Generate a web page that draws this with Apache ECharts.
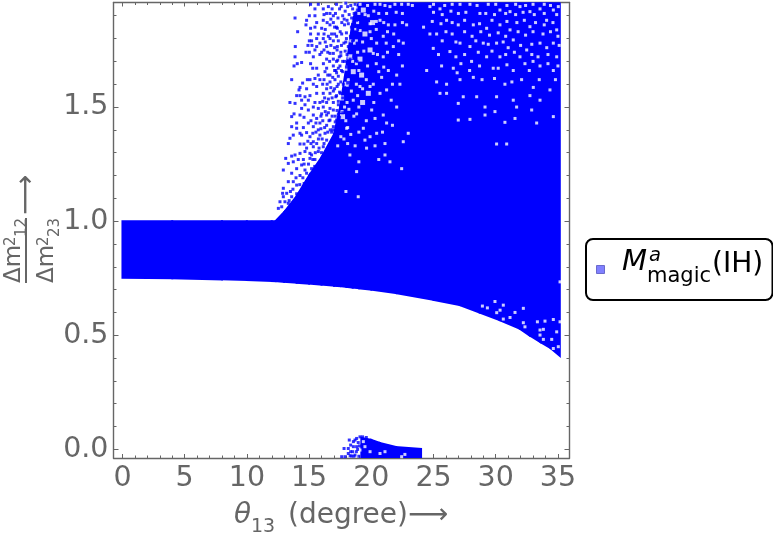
<!DOCTYPE html>
<html><head><meta charset="utf-8">
<script src="https://cdn.jsdelivr.net/npm/echarts@6/dist/echarts.min.js"></script>
<style>html,body{margin:0;padding:0;background:#fff}#c{width:773px;height:539px}</style></head>
<body><div id="c"></div>
<script>
const seriesName = 'M_magic^a(IH)';
const xMajor = [0,5,10,15,20,25,30,35];
const xMinor = [0,1,2,3,4,5,6,7,8,9,10,11,12,13,14,15,16,17,18,19,20,21,22,23,24,25,26,27,28,29,30,31,32,33,34,35];
const yMajor = [0,0.5,1,1.5];
const yMinor = [0,0.1,0.2,0.3,0.4,0.5,0.6,0.7,0.8,0.9,1,1.1,1.2,1.3,1.4,1.5,1.6,1.7,1.8,1.9];
const bandTheta = [0,4,8,10,12,12.3,13,14,15,16,17,17.5,18,18.5,19,20,22,25,27.1,28.7,30.3,31.9,32.7,33.6,34.4,35.15];
const bandLower = [0.752,0.75,0.745,0.742,0.738,0.737,0.734,0.73,0.726,0.722,0.717,0.715,0.712,0.709,0.706,0.70,0.685,0.655,0.632,0.60,0.567,0.53,0.50,0.47,0.444,0.41];
const bandUpper = [1,1,1,1,1,1,1.04,1.11,1.20,1.28,1.38,1.50,1.68,1.88,1.96,1.96,1.96,1.96,1.96,1.96,1.96,1.96,1.96,1.96,1.96,1.96];
const islandTheta = [19.2,20,20.7,22,24];
const islandLower = [-0.038,-0.038,-0.038,-0.038,-0.038];
const islandUpper = [0.05,0.042,0.028,0.01,0.002];
const strayPoints = [
[16.41,1.96],[15.74,1.95],[15.12,1.95],[16.14,1.93],[15.47,1.93],[16.68,1.91],[16.41,1.91],[13.87,1.89],[15.02,1.90],[15.47,1.90],
[16.14,1.88],[14.80,1.88],[16.95,1.90],[15.61,1.87],[14.75,1.86],[16.68,1.86],[16.95,1.87],[15.47,1.85],[15.12,1.845],[16.01,1.845],
[17.27,1.845],[16.20,1.82],[15.12,1.82],[14.08,1.83],[15.74,1.82],[16.81,1.82],[17.21,1.81],[16.68,1.80],[15.2,1.79],[15.61,1.80],
[16.14,1.80],[16.95,1.79],[15.02,1.79],[15.87,1.78],[13.89,1.765],[14.91,1.77],[15.23,1.77],[15.61,1.765],[16.41,1.765],[17.27,1.765],
[15.47,1.75],[16.01,1.74],[16.95,1.735],[14.75,1.74],[15.02,1.74],[16.68,1.735],[15.87,1.73],[17.43,1.72],[15.34,1.72],[13.87,1.72],
[16.95,1.71],[16.41,1.71],[17.21,1.70],[14.40,1.695],[14.05,1.69],[15.12,1.69],[15.61,1.67],[16.41,1.67],[16.95,1.68],[13.79,1.68],
[15.29,1.67],[17.35,1.67],[16.28,1.655],[15.74,1.64],[16.68,1.64],[17.21,1.65],[15.47,1.625],[15.07,1.62],[13.60,1.62],[14.48,1.605],
[14.86,1.62],[15.87,1.62],[16.68,1.61],[17.08,1.62],[14.27,1.586],[15.34,1.60],[16.09,1.60],[15.61,1.59],[17.35,1.60],[14.19,1.575],
[14.80,1.58],[16.41,1.58],[16.95,1.57],[15.61,1.56],[16.14,1.56],[14.0,1.55],[14.27,1.55],[14.67,1.545],[15.07,1.55],[16.68,1.56],
[17.21,1.55],[14.40,1.53],[14.94,1.53],[15.47,1.52],[15.87,1.52],[16.41,1.52],[16.95,1.52],[13.46,1.52],[13.87,1.516],[14.67,1.51],
[15.34,1.50],[16.14,1.50],[17.35,1.51],[14.40,1.494],[14.94,1.487],[15.74,1.494],[16.68,1.494],[16.95,1.487],[13.79,1.47],[14.27,1.465],
[15.34,1.465],[16.01,1.47],[16.41,1.465],[17.35,1.47],[13.60,1.458],[14.59,1.455],[15.61,1.45],[16.68,1.443],[17.21,1.443],[14.0,1.43],
[14.94,1.43],[15.87,1.43],[14.0,1.407],[13.60,1.414],[14.54,1.41],[15.34,1.414],[16.41,1.42],[16.95,1.414],[15.74,1.40],[14.27,1.385],
[14.80,1.388],[13.73,1.377],[16.28,1.385],[16.81,1.39],[13.46,1.363],[14.40,1.377],[15.07,1.37],[15.87,1.377],[15.34,1.348],[13.33,1.34],
[14.59,1.338],[14.27,1.338],[15.61,1.34],[16.41,1.355],[17.08,1.363],[14.80,1.32],[15.34,1.326],[16.14,1.326],[16.68,1.31],[14.67,1.305],
[13.87,1.29],[13.60,1.285],[14.27,1.297],[15.07,1.297],[15.74,1.305],[13.12,1.275],[14.13,1.27],[14.54,1.27],[15.07,1.275],[13.73,1.26],
[13.33,1.253],[14.40,1.246],[15.47,1.27],[12.93,1.224],[14.0,1.23],[14.67,1.224],[13.60,1.21],[14.27,1.20],[13.33,1.173],[13.73,1.173],
[14.0,1.158],[12.93,1.144],[13.20,1.122],[12.87,1.122],[13.60,1.107],[12.93,1.107],[12.66,1.085],[13.06,1.085],[13.33,1.078],[12.53,1.056],[12.80,1.063],
[17.52,1.56],[17.6,1.66],[17.55,1.74],[17.62,1.82],[17.7,1.9],[17.58,1.94],[17.8,1.78],[17.85,1.86],[17.9,1.92],[18.0,1.80],[18.05,1.88],[17.75,1.6],[17.7,1.7],[18.1,1.94],
[16.6,1.44],[16.9,1.40],[16.2,1.34],[16.5,1.39],[17.1,1.46],[16.1,1.44],[15.55,1.39],[15.8,1.32],[15.2,1.29],[15.45,1.24]
];
const strayDense = [
[17.2,1.95],[17.95,1.955],[18.35,1.945],[18.7,1.95],[17.45,1.93],[18.5,1.93],[18.9,1.925],[17.12,1.91],[18.22,1.905],[18.62,1.91],[17.32,1.89],[17.82,1.885],[18.42,1.89],[18.82,1.88],[17.63,1.87],[18.15,1.865],[18.6,1.87],[17.2,1.85],[18.4,1.85],[18.9,1.84],[17.5,1.83],[18.0,1.825],[18.7,1.83],[18.32,1.81],[18.62,1.805],[17.35,1.79],[17.95,1.785],[18.48,1.79],[18.85,1.78],[17.6,1.77],[18.15,1.765],[18.7,1.76],[17.25,1.75],[17.9,1.745],[18.4,1.75],[17.55,1.725],[18.05,1.73],[18.6,1.72],[17.3,1.705],[17.85,1.70],[18.3,1.71],[18.85,1.70],[17.48,1.68],[18.0,1.675],[18.5,1.68],[17.15,1.66],[17.7,1.655],[18.2,1.65],[17.35,1.635],[17.95,1.63],[18.4,1.63],[17.55,1.61],[18.1,1.605],[17.25,1.59],[17.85,1.585],[18.3,1.59],[17.45,1.565],[17.95,1.56],[17.15,1.545],[17.7,1.54],[17.35,1.525],[17.55,1.50],[17.25,1.485],[17.7,1.475],[17.45,1.455],[17.1,1.435],[17.6,1.43],[17.3,1.41],
[16.55,1.94],[16.85,1.93],[16.2,1.905],[16.75,1.885],[16.45,1.87],[17.05,1.85],[16.3,1.84],[16.55,1.81],[17.05,1.82],[16.3,1.785],[16.75,1.77],[17.05,1.76],[16.2,1.75],[16.5,1.74],[16.15,1.69],[16.65,1.70],[17.05,1.66],[16.5,1.64],[16.9,1.63],[16.2,1.62],[16.45,1.60],[16.75,1.585],[17.05,1.58],[16.25,1.54],[16.55,1.535],[16.85,1.54],[16.1,1.525],[16.3,1.48],[16.55,1.475],[16.85,1.46],[15.95,1.46],[16.25,1.41],[16.7,1.40],[15.95,1.405],[15.55,1.43],[15.15,1.44],[15.75,1.36],[16.05,1.36],[15.3,1.385],[15.5,1.30],[16.0,1.30],[14.9,1.35],[15.15,1.34],[15.3,1.27],[14.95,1.25],[15.2,1.23],[14.6,1.25],[14.8,1.21],[14.5,1.19],[14.25,1.16],[14.6,1.165],[13.95,1.19],[14.0,1.12],[13.5,1.13],[13.4,1.09],[13.7,1.14]
];
const islandStray = [[17.62,-0.032],[17.89,-0.032],[17.81,0.004],[18.23,0.041],[18.15,0.004],[18.34,0.019],[18.15,-0.018],[18.5,-0.01],[18.42,-0.029],[18.69,-0.025],[18.56,0.034],[18.82,0.012],[18.82,0.048],[19.09,0.055],[18.34,-0.01],[18.56,0.012],[18.69,0.041],[18.8,-0.01],[18.95,0.03],[19.0,-0.03],[18.9,0.0],[19.05,0.015],[18.6,-0.03],[19.3,0.055],[19.6,0.052],[18.3,-0.028]];
const gapLarge = [[18.28,1.88],[19.49,1.82],[17.75,1.78],[19.36,1.925],[18.69,1.93],[17.88,1.95],[17.61,1.82],[18.55,1.655],[19.22,1.64],[17.88,1.67],[18.02,1.60],[19.76,1.56],[17.61,1.54],[17.69,1.458],[18.28,1.72],[19.09,1.71],[19.9,1.75],[19.3,1.52],[20.1,1.87]];
const gapSmall = [
[19.76,1.90],[18.55,1.53],[17.61,1.71],[20.16,1.735],[20.43,1.78],[20.96,1.81],[21.37,1.86],[21.9,1.86],[20.70,1.88],[22.97,1.95],[20.70,1.95],[21.5,1.94],[22.44,1.95],[21.23,1.91],[22.84,1.86],[22.57,1.78],[21.77,1.765],[20.96,1.72],[21.37,1.66],[22.04,1.64],[20.83,1.63],[20.16,1.60],[19.09,1.59],[18.82,1.47],[20.03,1.487],[21.23,1.575],[22.04,1.50],[20.96,1.465],[18.02,1.407],[19.36,1.407],[20.43,1.385],[21.23,1.43],[19.49,1.355],[21.1,1.34],[19.62,1.32],[18.28,1.29],[21.1,1.29],[21.5,1.26],[22.44,1.23],[18.82,1.217],[17.96,1.13],[18.95,1.107],[22.57,1.348],[22.97,1.385],
[27.93,1.95],[31.15,1.918],[32.75,1.918],[29.4,1.95],[27.13,1.95],[25.52,1.93],[24.71,1.82],[24.98,1.757],[26.32,1.743],[27.13,1.78],[27.93,1.765],[29.0,1.78],[30.07,1.78],[31.41,1.794],[32.49,1.75],[33.56,1.78],[34.63,1.78],[34.9,1.838],[34.09,1.88],[32.75,1.852],[31.15,1.838],[30.34,1.86],[29.27,1.845],[28.2,1.86],[26.99,1.86],[26.05,1.88],[25.25,1.82],[24.71,1.94],[28.73,1.91],[30.34,1.925],[31.95,1.94],[33.56,1.93],[34.63,1.925],[35.03,1.94],[31.95,1.72],[30.34,1.72],[29.27,1.72],[28.06,1.70],[26.59,1.67],[25.65,1.68],[24.45,1.66],[32.35,1.69],[33.56,1.68],[34.63,1.66],[29.8,1.67],[31.41,1.66],[28.2,1.63],[30.74,1.60],[33.02,1.586],[34.36,1.575],[32.08,1.62],[27.13,1.62],[26.05,1.60],[25.25,1.61],[26.05,1.56],[27.39,1.545],[28.47,1.545],[30.07,1.545],[31.41,1.53],[32.75,1.55],[33.56,1.53],[25.52,1.56],[26.99,1.516],[29.14,1.50],[29.94,1.48],[31.68,1.50],[34.63,1.458],[32.89,1.487],[26.99,1.443],[27.93,1.446],[30.74,1.433],[31.55,1.45],[33.29,1.43],[30.07,1.338],[30.88,1.338],[29.14,1.465],
[33.35,0.559],[33.56,0.523],[33.83,0.526],[33.56,0.501],[33.83,0.482],[34.5,0.482],[34.9,0.515],[34.63,0.569],[33.96,0.562],[32.35,0.537],[32.22,0.555],[31.15,0.578],[30.61,0.571],[30.08,0.599],[30.35,0.61],[32.22,0.618],[29.94,0.648],[30.61,0.632],[31.55,0.60],[28.93,0.628],[29.33,0.62],[35.17,0.734],[35.03,0.45],[34.63,0.442],[35.17,0.559],
[20.7,-0.018],[22.7,-0.022],[19.36,0.034],[18.95,0.019],[19.49,0.012],[19.09,-0.003],[19.9,-0.01],[22.44,-0.032],[21.1,-0.01]
];
const gapDense = [
[19.1,1.95],[19.7,1.945],[20.3,1.95],[21.1,1.945],[21.9,1.95],[23.3,1.945],[25.0,1.95],[25.9,1.945],[26.5,1.95],[28.5,1.945],[30.0,1.95],[30.9,1.945],[31.6,1.95],[32.4,1.945],[33.0,1.95],[33.9,1.95],[34.4,1.945],
[19.0,1.91],[19.5,1.905],[20.2,1.92],[20.6,1.91],[22.0,1.915],[22.5,1.91],[25.0,1.915],[25.7,1.905],[26.4,1.92],[27.0,1.91],[27.6,1.915],[29.2,1.91],[29.9,1.905],[30.8,1.91],[31.6,1.905],[32.2,1.915],[33.1,1.905],[33.9,1.91],[34.9,1.905],
[18.9,1.87],[19.9,1.865],[20.4,1.875],[21.0,1.87],[22.5,1.87],[24.9,1.875],[25.6,1.865],[26.5,1.87],[27.5,1.88],[28.7,1.865],[29.7,1.88],[30.9,1.875],[31.7,1.87],[32.3,1.88],[33.2,1.87],[33.9,1.86],[34.6,1.87],
[19.1,1.835],[19.9,1.83],[20.4,1.84],[21.3,1.83],[21.8,1.82],[24.2,1.85],[26.0,1.83],[26.5,1.82],[27.5,1.83],[28.1,1.81],[28.8,1.83],[29.5,1.815],[30.2,1.825],[30.8,1.81],[31.8,1.83],[32.4,1.815],[33.0,1.83],[33.8,1.82],[34.4,1.83],[35.0,1.81],
[18.8,1.79],[19.3,1.785],[20.0,1.80],[21.2,1.78],[22.2,1.79],[25.7,1.79],[26.8,1.785],[28.4,1.79],[29.4,1.775],[30.6,1.785],[31.0,1.76],[32.0,1.77],[32.9,1.775],[34.1,1.76],[35.1,1.77],
[18.9,1.74],[19.4,1.745],[20.5,1.73],[21.3,1.74],[22.2,1.73],[25.4,1.73],[26.8,1.72],[27.5,1.73],[28.6,1.74],[29.7,1.745],[30.8,1.73],[31.5,1.74],[32.9,1.73],[33.4,1.72],[34.2,1.73],[34.9,1.72],
[18.8,1.69],[19.7,1.68],[20.4,1.69],[21.0,1.675],[22.5,1.68],[27.2,1.69],[27.9,1.66],[28.7,1.68],[30.2,1.67],[30.9,1.685],[32.7,1.66],[33.0,1.70],[34.2,1.69],[35.0,1.68],
[19.0,1.66],[19.6,1.62],[20.6,1.655],[21.7,1.60],[22.3,1.60],[26.9,1.65],[28.9,1.62],[29.9,1.625],[31.3,1.61],[33.5,1.62],[34.8,1.62],
[18.8,1.60],[19.9,1.59],[20.7,1.56],[18.4,1.57],[18.9,1.55],[19.3,1.58],[21.6,1.53],[20.2,1.52],[19.0,1.50],[18.2,1.49],[18.6,1.46],[19.6,1.44],[20.3,1.45],[21.7,1.42],[18.35,1.38],[19.0,1.39],[19.9,1.37],[20.9,1.39],[18.7,1.33],[20.3,1.33],[18.1,1.34],[19.0,1.26],[20.6,1.27],
[17.55,1.37],[17.95,1.44],[18.15,1.62],[18.05,1.52],[17.8,1.36],[18.5,1.70],[18.65,1.78],[18.75,1.84],[17.3,1.33],[17.65,1.48],[18.35,1.79],[18.1,1.41],[17.85,1.50]
];
function polyRender(thetas, lows, highs){
  return function(params, api){
    const i = params.dataIndex;
    if(i >= thetas.length-1) return null;
    const a = api.coord([thetas[i], lows[i]]), b = api.coord([thetas[i], highs[i]]);
    const c = api.coord([thetas[i+1], highs[i+1]]), d = api.coord([thetas[i+1], lows[i+1]]);
    return {type:'polygon', shape:{points:[a,b,c,d]}, style:{fill:'#0000ff', stroke:'#0000ff', lineWidth:2}};
  };
}
function tickAxis(pos, vals, len, main, labels, lo, hi, kind){
  return {type:'value', position:pos, min:lo, max:hi, splitLine:{show:false},
    axisLine:{show:main, onZero:false, lineStyle:{color:'#666', width:1.4}},
    axisTick:{show:true, inside:true, length:len, customValues:vals, lineStyle:{color:'#666', width:1}},
    axisLabel:{show:labels, customValues:vals, color:'#666', fontFamily:'DejaVu Sans', fontSize:28.5,
      margin:kind==='x'?6:5, formatter:kind==='x'?(v=>String(v)):(v=>v.toFixed(1)), showMinLabel:true, showMaxLabel:true}};
}
const xLo=-0.72, xHi=35.93, yLo=-0.0377, yHi=1.958;
const ink='#666', F='DejaVu Sans';
function T(x,y,text,size,opt){opt=opt||{};return {type:'text',x:x,y:y,rotation:opt.rot||0,z:50,
  style:{text:text,fontFamily:F,fontSize:size,fontStyle:opt.it?'italic':'normal',fill:opt.fill||ink,textAlign:'left',textVerticalAlign:'bottom'}};}
const R=Math.PI/2;
const chart = echarts.init(document.getElementById('c'),null,{renderer:'canvas'});
chart.setOption({
  animation:false,
  backgroundColor:'#fff',
  grid:{left:113.5, top:2.5, width:456, height:455.5},
  legend:{left:586, top:239, orient:'vertical', padding:[26,5,26,10], itemWidth:8, itemHeight:8,
    backgroundColor:'#fff', borderColor:'#000', borderWidth:2, borderRadius:7, selectedMode:false,
    data:[{name:seriesName, icon:'rect', itemStyle:{color:'#8080ff', borderColor:'#6a6acc', borderWidth:1}}],
    formatter:()=>' ', textStyle:{width:158, height:8, lineHeight:8, fontSize:8}},
  xAxis:[tickAxis('bottom',xMajor,4,true,true,xLo,xHi,'x'),tickAxis('bottom',xMinor,2.5,false,false,xLo,xHi,'x'),
         tickAxis('top',xMajor,4,true,false,xLo,xHi,'x'),tickAxis('top',xMinor,2.5,false,false,xLo,xHi,'x')],
  yAxis:[tickAxis('left',yMajor,5,true,true,yLo,yHi,'y'),tickAxis('left',yMinor,3,false,false,yLo,yHi,'y'),
         tickAxis('right',yMajor,5,true,false,yLo,yHi,'y'),tickAxis('right',yMinor,3,false,false,yLo,yHi,'y')],
  series:[
    {name:seriesName,type:'custom',clip:true,z:2,renderItem:polyRender(bandTheta,bandLower,bandUpper),
      encode:{x:0,y:[1,2]},data:bandTheta.map((t,i)=>[t,bandLower[i],bandUpper[i]])},
    {name:seriesName,type:'custom',clip:true,z:2,renderItem:polyRender(islandTheta,islandLower,islandUpper),
      encode:{x:0,y:[1,2]},data:islandTheta.map((t,i)=>[t,islandLower[i],islandUpper[i]])},
    {name:seriesName,type:'scatter',symbol:'rect',symbolSize:5,z:3,clip:true,silent:true,itemStyle:{color:'#fff'},data:gapLarge},
    {name:seriesName,type:'scatter',symbol:'rect',symbolSize:3,z:3,clip:true,silent:true,itemStyle:{color:'#fff'},data:gapSmall.concat(gapDense)},
    {name:seriesName,type:'scatter',symbol:'rect',symbolSize:3,z:4,clip:true,silent:true,itemStyle:{color:'#0000ff'},data:strayPoints.concat(strayDense)},
    {name:seriesName,type:'scatter',symbol:'rect',symbolSize:3,z:4,clip:true,silent:true,itemStyle:{color:'#0000ff'},data:islandStray}
  ],
  graphic:[
    T(234,530,'θ',28,{it:true}),T(251,537,'13',19),T(288,530,'(degree)',28),T(408,530,'⟶',28),
    T(622,277,'M',29,{it:true,fill:'#000'}),T(649,266,'a',19.5,{it:true,fill:'#000'}),T(647,287,'magic',21,{fill:'#000'}),T(712,279,'(IH)',28,{fill:'#000'}),
    T(26,283,'Δm',23,{rot:R}),T(19,246,'2',15,{rot:R}),T(30,237,'12',15,{rot:R}),
    T(59,283,'Δm',23,{rot:R}),T(52,246,'2',15,{rot:R}),T(63,237,'23',15,{rot:R}),
    {type:'rect',shape:{x:25,y:218,width:2,height:65},style:{fill:ink},z:50},
    T(41,215,'⟶',28,{rot:R})
  ]
});
</script></body></html>
